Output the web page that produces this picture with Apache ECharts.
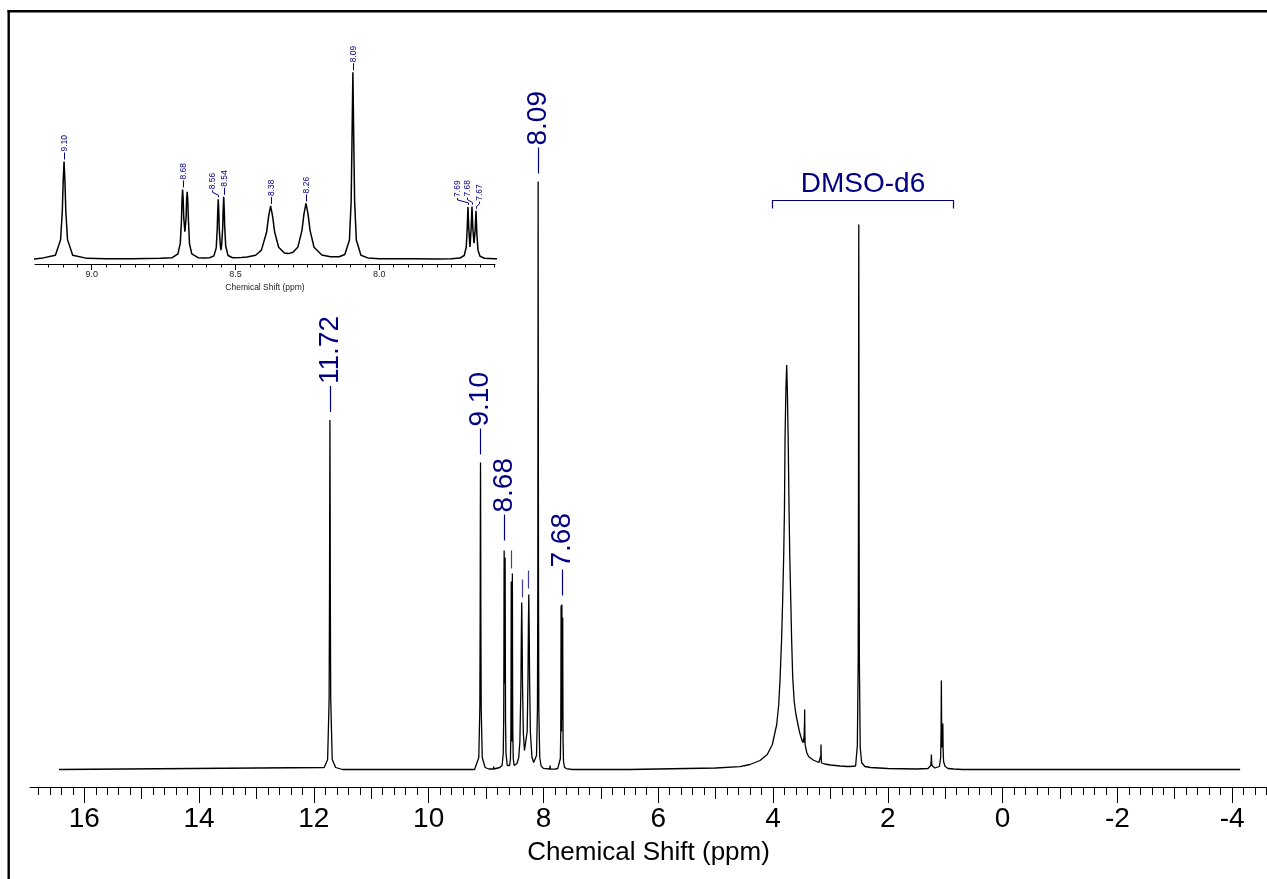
<!DOCTYPE html>
<html>
<head>
<meta charset="utf-8">
<script src="https://cdn.jsdelivr.net/npm/echarts/dist/echarts.min.js"></script>
<style>
html,body{margin:0;padding:0;background:#fff;}
#chart{width:1267px;height:879px;}
</style>
</head>
<body>
<div id="chart"></div>
<script>
// ---------- DATA ----------
// 1H NMR spectrum, [chemical shift (ppm), intensity (arbitrary units)]
const SPECTRUM = [
  [16.44,0],
  [11.82,2],[11.76,10],[11.734,70],[11.727,175],[11.724,263],[11.72,349.5],[11.716,263],[11.713,175],[11.706,70],[11.68,10],[11.62,2],[11.5,0],
  [9.2,0],[9.176,2],[9.126,12],[9.108,61],[9.102,153],[9.099,246],[9.096,307],[9.093,246],[9.09,153],[9.084,61],[9.066,12],[9.016,2],[8.95,0.5],
  [8.872,0.5],[8.866,3],[8.86,0.5],
  [8.76,2],[8.72,4],[8.70,16],[8.692,50],[8.688,118],[8.686,185],[8.684,219],[8.682,190],[8.68,131],[8.676,86],[8.672,128],[8.67,186],[8.668,212],[8.666,186],[8.664,130],[8.66,48],[8.652,16],[8.63,4],[8.61,3],
  [8.59,4],[8.575,10],[8.567,35],[8.5635,95],[8.562,145],[8.56,188],[8.558,145],[8.5565,95],[8.553,45],[8.5505,28],[8.548,47],[8.5445,100],[8.543,150],[8.541,196],[8.539,150],[8.5375,100],[8.534,40],[8.526,11],[8.51,4],[8.48,4.5],
  [8.46,6],[8.43,12],[8.41,28],[8.392,84],[8.385,134],[8.378,167],[8.371,134],[8.364,85],[8.35,37],[8.33,19],[8.316,17],[8.30,21],[8.283,38],[8.269,90],[8.262,142],[8.255,175],[8.248,142],[8.241,90],[8.227,37],[8.20,12.5],[8.17,7],[8.14,7],
  [8.12,14],[8.104,60],[8.098,182],[8.095,377],[8.092,588],[8.089,377],[8.086,182],[8.08,60],[8.064,12],[8.04,3.5],[8.0,1.1],
  [7.89,0.5],[7.884,4],[7.878,0.5],
  [7.80,0.3],[7.75,1],[7.72,3],[7.705,11],[7.698,37],[7.695,87],[7.692,164],[7.689,95],[7.685,38],[7.681,96],[7.678,165],[7.675,96],[7.671,50],[7.667,90],[7.664,152],[7.661,78],[7.657,27],[7.65,8.5],[7.635,2.5],[7.60,0.8],[7.5,0],
  [6.5,0],[6.0,0.5],[5.5,1],[5.0,1.5],[4.574,2.8],[4.40,5],[4.226,9],[4.10,15],[4.011,25],[3.935,45],[3.90,65],[3.877,90],[3.85,130],[3.83,172],[3.813,215],[3.80,260],[3.79,330],[3.775,380],[3.761,404.5],[3.75,380],[3.735,330],[3.72,260],[3.708,215],[3.691,172],[3.675,130],[3.656,92],[3.63,68],[3.60,55],[3.575,48],[3.54,38],[3.50,30],
  [3.48,27],[3.47,28],[3.466,31],[3.462,27],[3.455,28],[3.451,45],[3.448,60],[3.445,40],[3.44,25],[3.43,22],[3.412,17],[3.38,13],[3.30,9.5],[3.20,7],
  [3.17,7.5],[3.166,14],[3.163,25],[3.16,13],[3.155,6.5],[3.10,5.5],[3.0,4.5],[2.83,3.5],[2.70,3],[2.675,5],[2.66,3],[2.56,3.5],
  [2.555,7],[2.53,24],[2.515,109],[2.51,272],[2.5075,436],[2.505,545],[2.5025,436],[2.50,272],[2.495,109],[2.48,22],[2.455,7],[2.40,3],[2.30,2],[2.0,1],[1.5,0.5],
  [1.30,1],[1.25,4],[1.243,10],[1.24,15],[1.237,10],[1.23,4],[1.18,1.5],
  [1.10,3],[1.078,12],[1.071,40],[1.066,89],[1.061,40],[1.055,22],[1.05,20],[1.045,30],[1.04,46],[1.036,22],[1.028,8],[1.0,3],[0.95,1],[0.85,0.5],[0.7,0],
  [-4.14,0]
];

// main-plot peak labels
const MAIN_LABEL_PPM  = [11.72, 9.10, 8.686, 8.09, 7.681];
const MAIN_LABEL_PEAK = [349.5, 307, 221, 588, 166];
const MAIN_LABEL_TEXT = ['11.72', '9.10', '8.68', '8.09', '7.68'];
// main-plot peak markers whose text is hidden
const MAIN_MARK_PPM  = [8.56, 8.38, 8.26];
const MAIN_MARK_PEAK = [195, 166, 175];

// inset peak labels: peak position, label anchor, peak intensity, text
const INSET_LABEL_PPM  = [9.096, 8.684, 8.560, 8.541, 8.378, 8.255, 8.092, 7.692, 7.678, 7.664];
const INSET_LABEL_AT   = [9.096, 8.684, 8.583, 8.540, 8.378, 8.255, 8.092, 7.731, 7.696, 7.652];
const INSET_LABEL_PEAK = [307, 219, 188, 196, 167, 175, 588, 164, 165, 152];
const INSET_LABEL_TEXT = ['9.10', '8.68', '8.56', '8.54', '8.38', '8.26', '8.09', '7.69', '7.68', '7.67'];

// solvent bracket
const SOLVENT_FROM = 4.01, SOLVENT_TO = 0.87, SOLVENT_LEVEL = 570, SOLVENT_TEXT = 'DMSO-d6';

// tick labels
const MAIN_TICKS  = [16, 14, 12, 10, 8, 6, 4, 2, 0, -2, -4];
const MAIN_MID_TICKS = [15, 13, 11, 9, 7, 5, 3, 1, -1, -3];
const INSET_TICKS = [9.0, 8.5, 8.0];
const AXIS_NAME = 'Chemical Shift (ppm)';

// ---------- STYLE / LAYOUT ----------
const NAVY = '#000080';
const FONT = '"Liberation Sans", Arial, Helvetica, sans-serif';
const MAIN_MIN = -4.608, MAIN_MAX = 16.946;
const INSET_MIN = 7.598, INSET_MAX = 9.197;

const mainMinor = [];
for (let k = -23; k <= 84; k++) mainMinor.push(k / 5);
const insetMinor = [];
for (let k = 152; k <= 183; k++) insetMinor.push(k / 20);

function baseAxis(grid, min, max) {
  return {
    type: 'value', gridIndex: grid, inverse: true, min: min, max: max,
    position: 'bottom', offset: 0,
    splitLine: {show: false},
    axisLine: {show: false, onZero: false},
    axisTick: {show: false},
    axisLabel: {show: false}
  };
}

const xMain = baseAxis(0, MAIN_MIN, MAIN_MAX);
xMain.axisLine = {show: true, onZero: false, lineStyle: {color: '#000', width: 1}};
xMain.axisTick = {show: true, customValues: MAIN_TICKS, length: 16, lineStyle: {color: '#000', width: 1}};
xMain.axisLabel = {show: true, customValues: MAIN_TICKS, fontSize: 28, fontFamily: FONT, color: '#000', margin: 18,
  formatter: v => String(v)};
xMain.name = AXIS_NAME;
xMain.nameLocation = 'middle';
xMain.nameGap = 53;
xMain.nameTextStyle = {fontSize: 26, fontFamily: FONT, color: '#000'};

const xMainMid = baseAxis(0, MAIN_MIN, MAIN_MAX);
xMainMid.axisTick = {show: true, customValues: MAIN_MID_TICKS, length: 12, lineStyle: {color: '#000', width: 1}};

const xMainMinor = baseAxis(0, MAIN_MIN, MAIN_MAX);
xMainMinor.axisTick = {show: true, customValues: mainMinor, length: 8, lineStyle: {color: '#000', width: 1}};

const xInset = baseAxis(1, INSET_MIN, INSET_MAX);
xInset.axisLine = {show: true, onZero: false, lineStyle: {color: '#000', width: 1}};
xInset.axisTick = {show: true, customValues: INSET_TICKS, length: 6, lineStyle: {color: '#000', width: 1}};
xInset.axisLabel = {show: true, customValues: INSET_TICKS, fontSize: 9, fontFamily: FONT, color: '#222', margin: 6,
  formatter: v => v.toFixed(1)};
xInset.name = AXIS_NAME;
xInset.nameLocation = 'middle';
xInset.nameGap = 19;
xInset.nameTextStyle = {fontSize: 8.5, fontFamily: FONT, color: '#222'};

const xInsetMinor = baseAxis(1, INSET_MIN, INSET_MAX);
xInsetMinor.axisTick = {show: true, customValues: insetMinor, length: 3.5, lineStyle: {color: '#000', width: 1}};

function mainLabelItem(params, api) {
  const i = params.dataIndex;
  const p = api.coord([api.value(0), api.value(1)]);
  const x = Math.round(p[0]) + 0.5;
  const yb = p[1] - 8, yt = yb - 26;
  return {type: 'group', children: [
    {type: 'line', shape: {x1: x, y1: yb, x2: x, y2: yt}, style: {stroke: NAVY, lineWidth: 1.2}},
    {type: 'text', x: x, y: yt - 2, rotation: Math.PI / 2,
      style: {text: MAIN_LABEL_TEXT[i], fill: NAVY, fontSize: 28, fontFamily: FONT, align: 'left', verticalAlign: 'middle'}}
  ]};
}
function mainMarkItem(params, api) {
  const p = api.coord([api.value(0), api.value(1)]);
  const x = Math.round(p[0]) + 0.5;
  const yb = p[1] - 6, yt = yb - 18;
  return {type: 'line', shape: {x1: x, y1: yb, x2: x, y2: yt}, style: {stroke: NAVY, lineWidth: 1.2, opacity: 0.75}};
}
function insetLabelItem(params, api) {
  const i = params.dataIndex;
  const p = api.coord([api.value(0), api.value(2)]);
  const lx = Math.round(api.coord([api.value(1), api.value(2)])[0]) + 0.5;
  const px = Math.round(p[0]) + 0.5;
  const top = p[1];
  let pts;
  if (Math.abs(lx - px) < 1.5) pts = [[px, top - 2], [px, top - 9]];
  else pts = [[px, top - 2], [px, top - 4], [lx, top - 7], [lx, top - 9]];
  return {type: 'group', children: [
    {type: 'polyline', shape: {points: pts}, style: {stroke: NAVY, lineWidth: 1, fill: null}},
    {type: 'text', x: lx, y: top - 10, rotation: Math.PI / 2,
      style: {text: INSET_LABEL_TEXT[i], fill: NAVY, fontSize: 8.5, fontFamily: FONT, align: 'left', verticalAlign: 'middle'}}
  ]};
}
function bracketItem(params, api) {
  const a = api.coord([api.value(0), api.value(2)]);
  const b = api.coord([api.value(1), api.value(2)]);
  const y = Math.round(a[1]) + 0.5;
  const x1 = Math.round(a[0]) + 0.5, x2 = Math.round(b[0]) + 0.5;
  return {type: 'group', children: [
    {type: 'polyline', shape: {points: [[x1, y + 8], [x1, y], [x2, y], [x2, y + 8]]}, style: {stroke: NAVY, lineWidth: 1.2, fill: null}},
    {type: 'text', x: (x1 + x2) / 2, y: y - 16,
      style: {text: SOLVENT_TEXT, fill: NAVY, fontSize: 28, fontFamily: FONT, align: 'center', verticalAlign: 'middle'}}
  ]};
}

const chart = echarts.init(document.getElementById('chart'), null, {renderer: 'canvas'});
chart.setOption({
  animation: false,
  backgroundColor: '#fff',
  grid: [
    {left: 30, right: 0, top: 169.5, bottom: 92},
    {left: 35, width: 460, top: 59, height: 205}
  ],
  xAxis: [xMain, xMainMid, xMainMinor, xInset, xInsetMinor],
  yAxis: [
    {type: 'value', gridIndex: 0, min: -17.5, max: 600, show: false, splitLine: {show: false}},
    {type: 'value', gridIndex: 1, min: -15.75, max: 629.95, show: false, splitLine: {show: false}}
  ],
  graphic: [
    {type: 'line', shape: {x1: 7.5, y1: 11.2, x2: 1267, y2: 11.2}, style: {stroke: '#000', lineWidth: 2.4}},
    {type: 'line', shape: {x1: 8.7, y1: 10, x2: 8.7, y2: 879}, style: {stroke: '#000', lineWidth: 2.4}}
  ],
  series: [
    {type: 'line', xAxisIndex: 0, yAxisIndex: 0, data: SPECTRUM, showSymbol: false, symbol: 'none',
      lineStyle: {color: '#000', width: 1.3}, clip: true, silent: true},
    {type: 'line', xAxisIndex: 3, yAxisIndex: 1, data: SPECTRUM, showSymbol: false, symbol: 'none',
      lineStyle: {color: '#000', width: 1.5}, clip: true, silent: true},
    {type: 'custom', xAxisIndex: 0, yAxisIndex: 0, renderItem: mainLabelItem, silent: true,
      data: MAIN_LABEL_PPM.map((v, i) => [v, MAIN_LABEL_PEAK[i]])},
    {type: 'custom', xAxisIndex: 0, yAxisIndex: 0, renderItem: mainMarkItem, silent: true,
      data: MAIN_MARK_PPM.map((v, i) => [v, MAIN_MARK_PEAK[i]])},
    {type: 'custom', xAxisIndex: 3, yAxisIndex: 1, renderItem: insetLabelItem, silent: true,
      data: INSET_LABEL_PPM.map((v, i) => [v, INSET_LABEL_AT[i], INSET_LABEL_PEAK[i]])},
    {type: 'custom', xAxisIndex: 0, yAxisIndex: 0, renderItem: bracketItem, silent: true,
      data: [[SOLVENT_FROM, SOLVENT_TO, SOLVENT_LEVEL]]}
  ]
});
</script>
</body>
</html>
